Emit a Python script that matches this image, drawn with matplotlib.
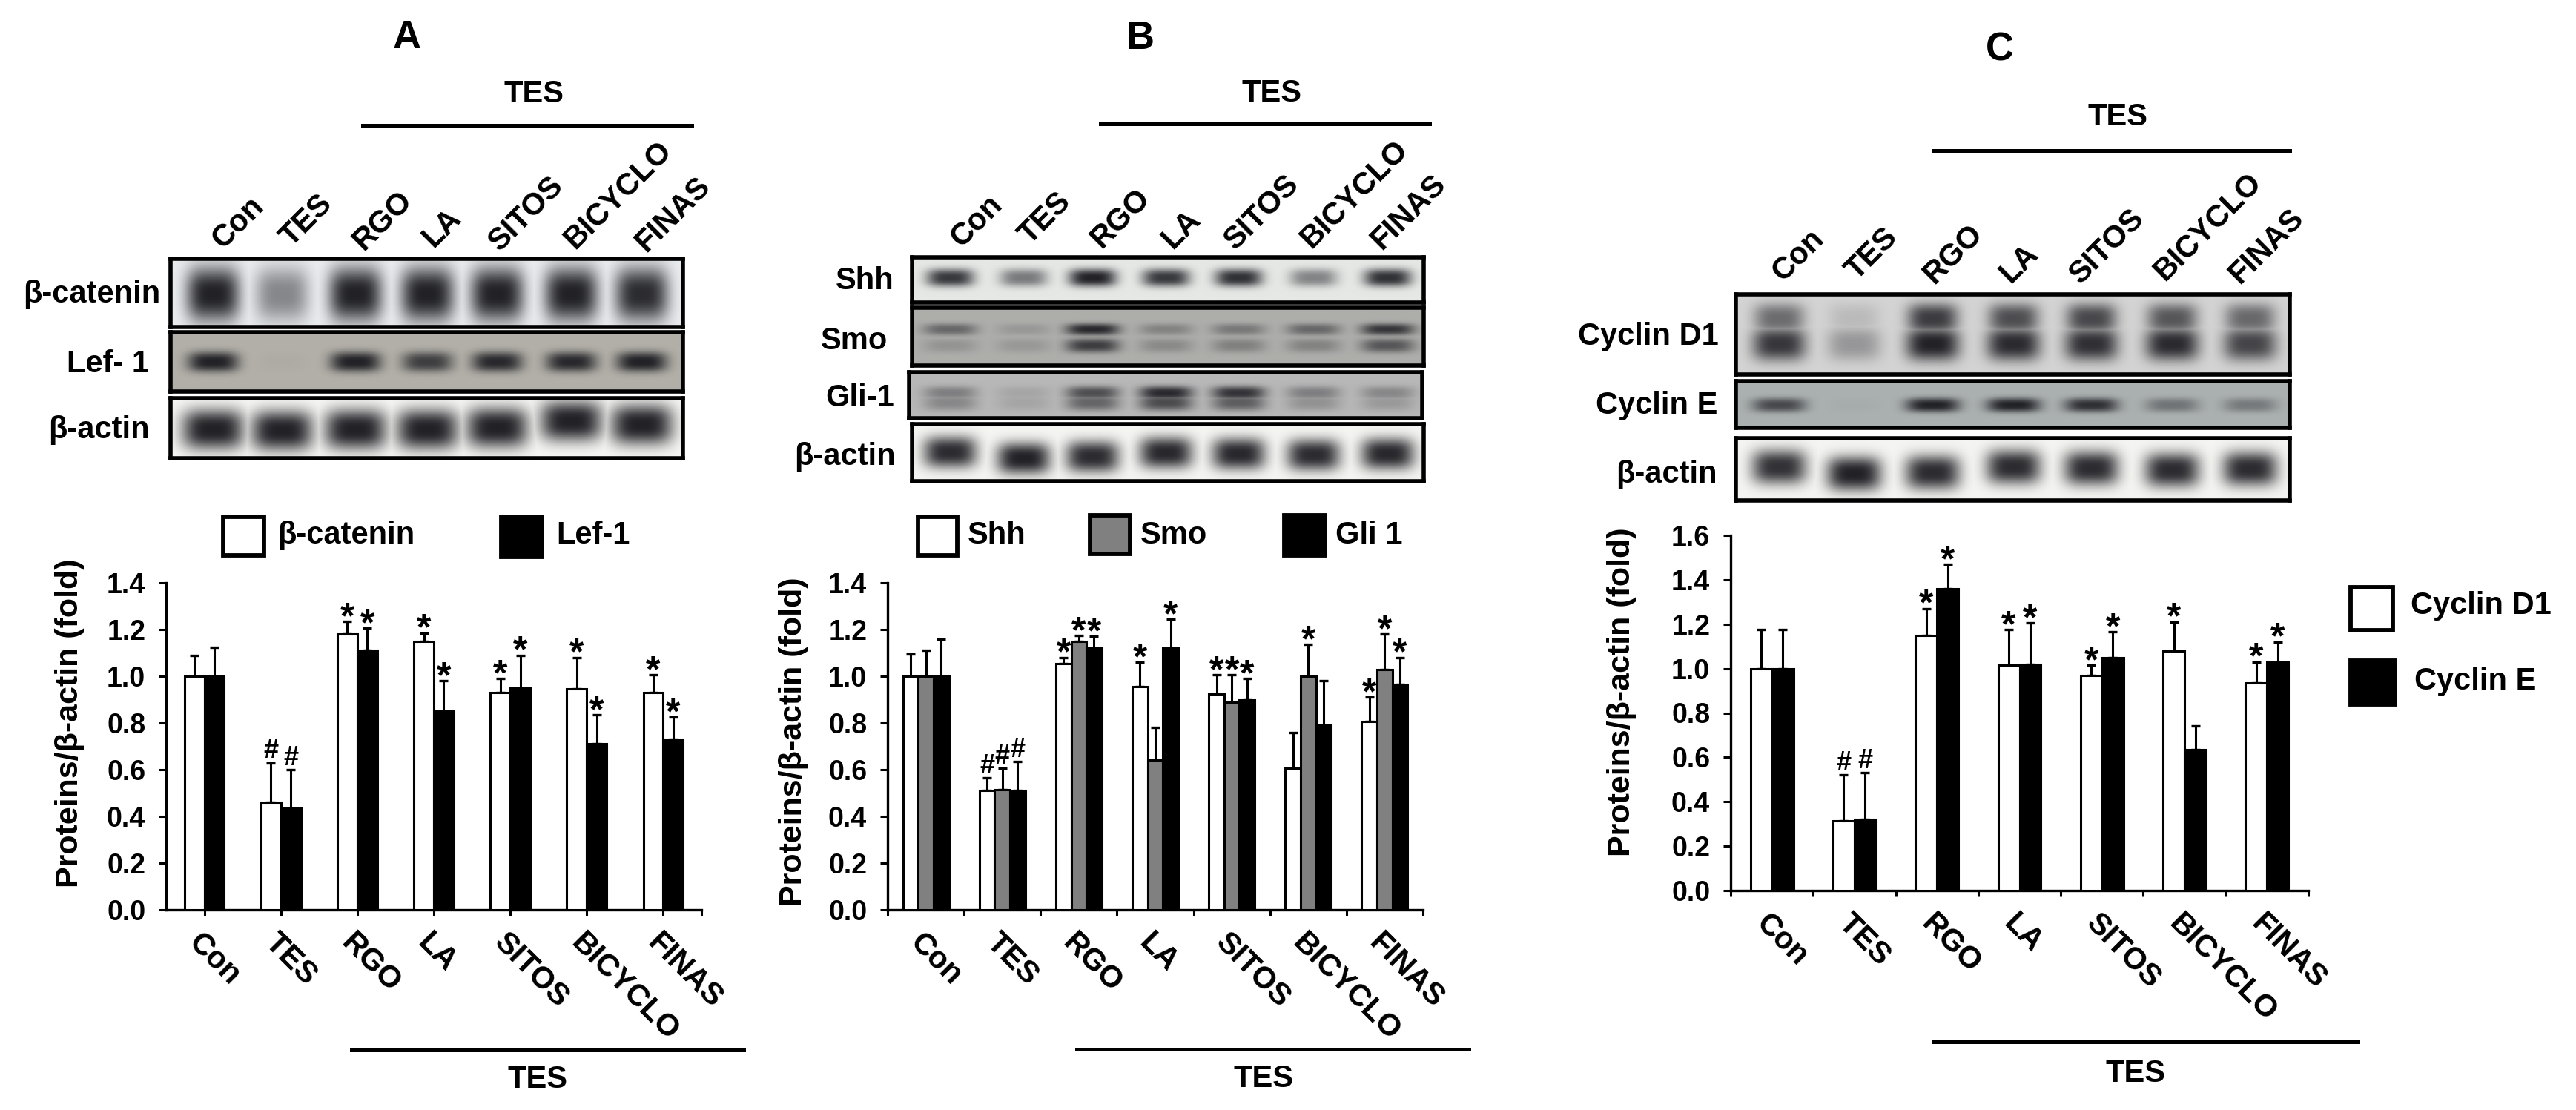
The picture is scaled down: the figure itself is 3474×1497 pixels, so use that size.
import numpy as np
import matplotlib
matplotlib.use('Agg')
import matplotlib.pyplot as plt
from matplotlib.patches import Rectangle
from matplotlib.transforms import ScaledTranslation

plt.rcParams['font.family'] = ['Liberation Sans', 'DejaVu Sans']
plt.rcParams['font.weight'] = 'bold'
plt.rcParams['axes.labelweight'] = 'bold'

W, H = 3474, 1497

groups = ['Con', 'TES', 'RGO', 'LA', 'SITOS', 'BICYCLO', 'FINAS']

# panel A
catenin = [1.0, 0.46, 1.18, 1.15, 0.93, 0.945, 0.93]
catenin_top = [1.09, 0.63, 1.235, 1.185, 0.99, 1.08, 1.005]
catenin_marks = ['', '#', '*', '*', '*', '*', '*']
lef1 = [1.0, 0.435, 1.11, 0.85, 0.95, 0.71, 0.73]
lef1_top = [1.125, 0.60, 1.205, 0.98, 1.09, 0.835, 0.825]
lef1_marks = ['', '#', '*', '*', '*', '*', '*']

# panel B
shh = [1.0, 0.51, 1.055, 0.955, 0.925, 0.605, 0.805]
shh_top = [1.095, 0.565, 1.08, 1.06, 1.005, 0.76, 0.91]
shh_marks = ['', '#', '*', '*', '*', '', '*']
smo = [1.0, 0.515, 1.15, 0.64, 0.89, 1.0, 1.03]
smo_top = [1.11, 0.605, 1.175, 0.78, 1.005, 1.135, 1.18]
smo_marks = ['', '#', '*', '', '*', '*', '*']
gli1 = [1.0, 0.51, 1.12, 1.12, 0.90, 0.79, 0.965]
gli1_top = [1.16, 0.635, 1.17, 1.245, 0.99, 0.98, 1.08]
gli1_marks = ['', '#', '*', '*', '*', '', '*']

# panel C
cyclin_d1 = [1.0, 0.315, 1.15, 1.015, 0.97, 1.08, 0.935]
cyclin_d1_top = [1.175, 0.52, 1.27, 1.175, 1.015, 1.21, 1.03]
cyclin_d1_marks = ['', '#', '*', '*', '*', '*', '*']
cyclin_e = [1.0, 0.32, 1.36, 1.02, 1.05, 0.635, 1.03]
cyclin_e_top = [1.175, 0.53, 1.47, 1.205, 1.165, 0.74, 1.12]
cyclin_e_marks = ['', '#', '*', '*', '*', '', '*']

# band darkness per lane, estimated by eye from the blots
blot_catenin = [1.0, 0.50, 1.0, 1.0, 1.0, 1.0, 0.95]
blot_lef1 = [1.0, 0.03, 1.0, 0.80, 0.95, 0.95, 1.0]
blot_actin_a = [1.0, 1.0, 1.0, 1.0, 1.0, 1.0, 1.0]
blot_shh = [0.88, 0.55, 1.0, 0.88, 0.92, 0.50, 0.92]
blot_smo_up = [0.50, 0.15, 0.95, 0.30, 0.38, 0.50, 0.85]
blot_smo_low = [0.18, 0.15, 0.80, 0.25, 0.32, 0.30, 0.62]
blot_gli_up = [0.38, 0.12, 0.70, 0.95, 0.88, 0.38, 0.32]
blot_gli_low = [0.32, 0.12, 0.55, 0.72, 0.60, 0.25, 0.20]
blot_actin_b = [0.95, 1.0, 0.95, 0.97, 0.97, 0.95, 0.97]
blot_d1_up = [0.58, 0.14, 0.85, 0.75, 0.78, 0.70, 0.60]
blot_d1_low = [0.88, 0.34, 1.0, 0.95, 0.92, 0.95, 0.80]
blot_e = [0.72, 0.03, 1.0, 1.0, 0.90, 0.42, 0.38]
blot_actin_c = [0.92, 1.0, 0.95, 0.95, 0.95, 0.95, 0.95]
actin_shift_a = [0.02, 0.04, 0.02, 0.02, -0.01, -0.12, -0.06]
actin_shift_b = [-0.05, 0.06, 0.03, -0.04, -0.02, 0.0, -0.02]
actin_shift_c = [-0.06, 0.05, 0.03, -0.06, -0.04, -0.01, -0.03]

# layout in reference pixels
lanes_a = [287, 380, 479, 576, 670, 770, 865]
lanes_b = [1281, 1380, 1473, 1572, 1670, 1771, 1871]
lanes_c = [2399, 2500, 2606, 2715, 2820, 2929, 3034]

fig = plt.figure(figsize=(W / 100, H / 100), dpi=100, facecolor='white')


def px_axes(x0, y0, x1, y1):
    return fig.add_axes([x0 / W, 1 - y1 / H, (x1 - x0) / W, (y1 - y0) / H])


def put(x, y, s, size=30, **kw):
    kw.setdefault('ha', 'center')
    kw.setdefault('va', 'center')
    fig.text(x / W, 1 - y / H, s, fontsize=size, color='black', **kw)


def hline(x0, x1, y, lw=3.6):
    fig.add_artist(plt.Line2D([x0 / W, x1 / W], [1 - y / H, 1 - y / H], color='black', lw=lw))


def blot(box, lanes, bg, rows):
    # rows: (darkness per lane, y fraction, y spread, half width in px, shift per lane)
    x0, y0, x1, y1 = box
    ax = px_axes(x0, y0, x1, y1)
    xs = np.arange(x0, x1)
    ys = np.linspace(0, 1, y1 - y0)
    xx, yy = np.meshgrid(xs, ys)
    dark = np.zeros_like(xx, dtype=float)
    for levels, yc, sy, sx, shift in rows:
        for k, lane in enumerate(lanes):
            dy = yc + (shift[k] if shift else 0)
            prof = np.exp(-np.abs((xx - lane) / sx) ** 3.5) * np.exp(-np.abs((yy - dy) / sy) ** 2.6)
            dark = np.maximum(dark, levels[k] * prof)
    ink = np.array([0.13, 0.13, 0.15])
    img = np.array(bg)[None, None, :] * (1 - dark[..., None]) + ink * dark[..., None]
    ax.imshow(img, aspect='auto', interpolation='bilinear')
    ax.set_xticks([])
    ax.set_yticks([])
    for s in ax.spines.values():
        s.set_linewidth(4)


def bars(box, ymax, yticks, series, width, label_xy, centered_ticks=False):
    x0, y0, x1, y1 = box
    ax = px_axes(x0, y0, x1, y1)
    n = len(series)
    centers = np.arange(len(groups))
    for j, (vals, tops, marks, color) in enumerate(series):
        xpos = centers + (j - (n - 1) / 2) * width
        ax.bar(xpos, vals, width, color=color, edgecolor='black', linewidth=2.2, zorder=3)
        lower = np.zeros(len(vals))
        upper = np.array(tops) - np.array(vals)
        ax.errorbar(xpos, vals, yerr=[lower, upper], fmt='none', ecolor='black',
                    elinewidth=2.2, capsize=4.5, capthick=2.4, zorder=2)
        for k, m in enumerate(marks):
            if m == '*':
                ax.annotate(m, (xpos[k], tops[k]), xytext=(0, -6.5), textcoords='offset points',
                            fontsize=36, ha='center', va='baseline', zorder=4)
            elif m == '#':
                ax.annotate(m, (xpos[k], tops[k]), xytext=(0, 4.5), textcoords='offset points',
                            fontsize=26, ha='center', va='baseline', zorder=4)
    ax.set_xlim(-0.5, len(groups) - 0.5)
    ax.set_ylim(0, ymax)
    ax.set_yticks(yticks)
    ax.set_yticklabels(['%.1f' % t for t in yticks], fontsize=27)
    # panel A has its ticks under the bars, so the minor label ticks must not get dropped
    ax.xaxis.remove_overlapping_locs = False
    if centered_ticks:
        ax.set_xticks(list(centers) + [len(groups) - 0.5])
    else:
        ax.set_xticks(np.arange(len(groups) + 1) - 0.5)
    ax.set_xticklabels([])
    ax.set_xticks(centers, groups, minor=True)
    ax.tick_params(axis='y', width=2.2, length=7, pad=13)
    ax.tick_params(axis='x', which='major', width=2.2, length=5.5)
    ax.tick_params(axis='x', which='minor', length=0, pad=17, labelsize=30)
    shift = ScaledTranslation(-1 / 72, 0, fig.dpi_scale_trans)
    for lab in ax.get_xticklabels(minor=True):
        lab.set_rotation(-45)
        lab.set_ha('left')
        lab.set_va('top')
        lab.set_rotation_mode('anchor')
        lab.set_transform(lab.get_transform() + shift)
    ax.set_ylabel('Proteins/β-actin (fold)', fontsize=31, ha='center', va='center')
    lx, ly = label_xy
    ax.yaxis.set_label_coords((lx - x0) / (x1 - x0), (y1 - ly) / (y1 - y0))
    for s in ['top', 'right']:
        ax.spines[s].set_visible(False)
    for s in ['left', 'bottom']:
        ax.spines[s].set_linewidth(2.4)
    ax.patch.set_alpha(0)
    return ax


def lane_labels(points):
    for (x, y), name in zip(points, groups):
        put(x, y, name, rotation=45)


def legend_box(x0, y0, x1, y1, color, lw=4.2):
    fig.add_artist(Rectangle((x0 / W, 1 - y1 / H), (x1 - x0) / W, (y1 - y0) / H, facecolor=color,
                             edgecolor='black', linewidth=lw, transform=fig.transFigure))


# panel A
put(549, 51, 'A', size=38)
put(720, 127, 'TES')
hline(489, 933, 169)
lane_labels([(321, 301), (413, 298), (516, 298), (596, 308), (710, 288), (834, 263), (908, 289)])
blot((230, 349, 921, 441), lanes_a, (0.92, 0.93, 0.94), [(blot_catenin, 0.52, 0.40, 36, None)])
blot((230, 448, 921, 528), lanes_a, (0.70, 0.69, 0.66), [(blot_lef1, 0.50, 0.17, 34, None)])
blot((230, 537, 921, 618), lanes_a, (0.97, 0.97, 0.96), [(blot_actin_a, 0.50, 0.34, 42, actin_shift_a)])
put(216, 397, 'β-catenin', ha='right')
put(201, 491, 'Lef- 1', ha='right')
put(202, 580, 'β-actin', ha='right')
bars((224, 786, 946, 1227), 1.4, [0, 0.2, 0.4, 0.6, 0.8, 1.0, 1.2, 1.4],
     [(catenin, catenin_top, catenin_marks, 'white'), (lef1, lef1_top, lef1_marks, 'black')],
     0.26, (94, 975), centered_ticks=True)
legend_box(301, 697, 356, 749, 'white')
put(374, 722, 'β-catenin', ha='left')
legend_box(676, 697, 731, 751, 'black')
put(750, 722, 'Lef-1', ha='left')
hline(474, 1003, 1416)
put(725, 1456, 'TES')

# panel B
put(1537, 52, 'B', size=38)
put(1715, 126, 'TES')
hline(1484, 1928, 167)
lane_labels([(1317, 299), (1409, 295), (1511, 295), (1593, 310), (1702, 286), (1827, 262), (1900, 286)])
blot((1230, 347, 1920, 408), lanes_b, (0.90, 0.91, 0.90), [(blot_shh, 0.45, 0.20, 32, None)])
blot((1230, 415, 1920, 493), lanes_b, (0.68, 0.68, 0.67),
     [(blot_smo_up, 0.38, 0.10, 36, None), (blot_smo_low, 0.66, 0.12, 36, None)])
blot((1226, 502, 1918, 564), lanes_b, (0.72, 0.72, 0.72),
     [(blot_gli_up, 0.45, 0.15, 36, None), (blot_gli_low, 0.66, 0.18, 36, None)])
blot((1230, 572, 1920, 649), lanes_b, (0.96, 0.96, 0.95), [(blot_actin_b, 0.54, 0.28, 36, actin_shift_b)])
put(1206, 379, 'Shh', ha='right')
put(1197, 460, 'Smo', ha='right')
put(1206, 537, 'Gli-1', ha='right')
put(1208, 616, 'β-actin', ha='right')
bars((1197, 786, 1919, 1227), 1.4, [0, 0.2, 0.4, 0.6, 0.8, 1.0, 1.2, 1.4],
     [(shh, shh_top, shh_marks, 'white'), (smo, smo_top, smo_marks, '#808080'),
      (gli1, gli1_top, gli1_marks, 'black')], 0.2, (1070, 1000))
legend_box(1238, 697, 1291, 749, 'white')
put(1305, 722, 'Shh', ha='left')
legend_box(1470, 695, 1524, 747, '#808080')
put(1538, 722, 'Smo', ha='left')
legend_box(1732, 695, 1787, 749, 'black')
put(1801, 722, 'Gli 1', ha='left')
hline(1452, 1981, 1415)
put(1704, 1455, 'TES')

# panel C
put(2697, 68, 'C', size=38)
put(2856, 158, 'TES')
hline(2608, 3088, 203)
lane_labels([(2425, 345), (2524, 343), (2634, 343), (2723, 356), (2842, 332), (2978, 306), (3057, 332)])
blot((2341, 397, 3088, 505), lanes_c, (0.83, 0.83, 0.83),
     [(blot_d1_up, 0.30, 0.19, 34, None), (blot_d1_low, 0.62, 0.21, 36, None)])
blot((2341, 514, 3088, 577), lanes_c, (0.67, 0.69, 0.69), [(blot_e, 0.52, 0.15, 36, None)])
blot((2341, 591, 3088, 675), lanes_c, (0.96, 0.96, 0.95), [(blot_actin_c, 0.52, 0.28, 37, actin_shift_c)])
put(2318, 454, 'Cyclin D1', ha='right')
put(2316, 547, 'Cyclin E', ha='right')
put(2316, 640, 'β-actin', ha='right')
bars((2334, 722, 3113, 1201), 1.6, [0, 0.2, 0.4, 0.6, 0.8, 1.0, 1.2, 1.4, 1.6],
     [(cyclin_d1, cyclin_d1_top, cyclin_d1_marks, 'white'), (cyclin_e, cyclin_e_top, cyclin_e_marks, 'black')],
     0.26, (2187, 933))
legend_box(3170, 792, 3227, 850, 'white')
put(3251, 817, 'Cyclin D1', ha='left')
legend_box(3170, 891, 3230, 950, 'black')
put(3256, 919, 'Cyclin E', ha='left')
hline(2608, 3180, 1405)
put(2880, 1448, 'TES')

fig.savefig('out.png', dpi=100)
